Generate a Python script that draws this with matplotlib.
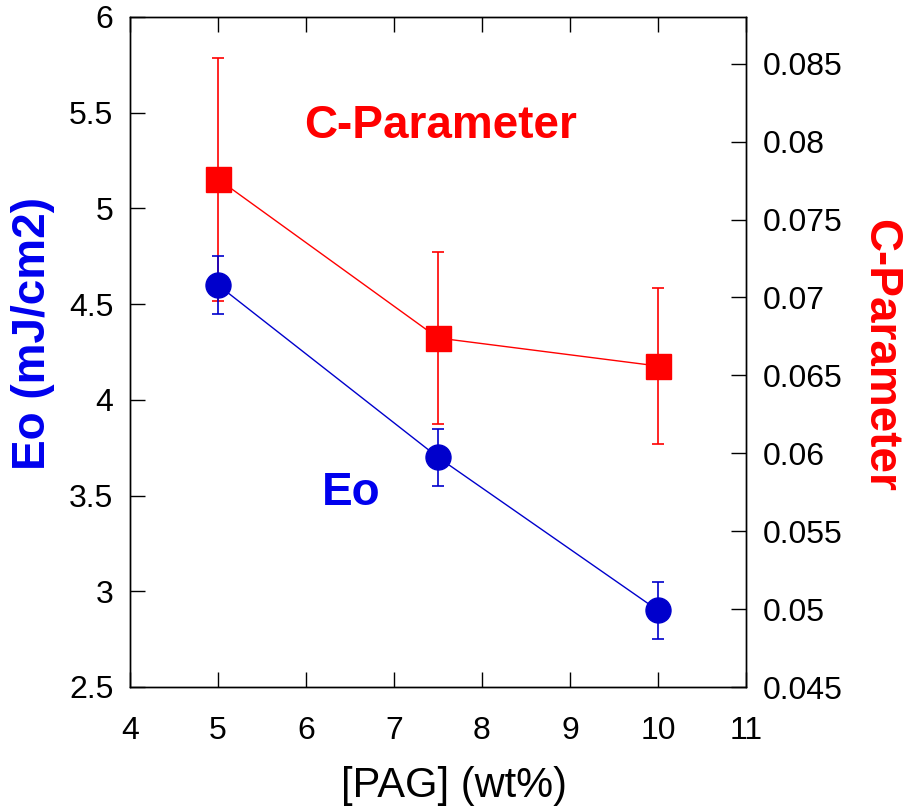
import matplotlib
matplotlib.use("Agg")
import matplotlib.pyplot as plt

plt.rcParams['font.family'] = ['Liberation Sans', 'DejaVu Sans']

pag = [5, 7.5, 10]
eo = [4.6, 3.7, 2.9]
eo_err = [0.15, 0.15, 0.15]
cparam = [0.0776, 0.0674, 0.0656]
cparam_err = [0.0078, 0.0055, 0.0050]

x_ticks = [4, 5, 6, 7, 8, 9, 10, 11]
eo_ticks = [2.5, 3, 3.5, 4, 4.5, 5, 5.5, 6]
eo_tick_labels = ['2.5', '3', '3.5', '4', '4.5', '5', '5.5', '6']
c_ticks = [0.045, 0.05, 0.055, 0.06, 0.065, 0.07, 0.075, 0.08, 0.085]
c_tick_labels = ['0.045', '0.05', '0.055', '0.06', '0.065', '0.07', '0.075', '0.08', '0.085']

BLUE_M = '#0000cc'
BLUE_T = '#0000ee'
RED = '#ff0000'

fig = plt.figure(figsize=(9.04, 8.09), dpi=100)
ax1 = fig.add_axes([130/904, 1-687/809, 616/904, 670/809])
ax2 = ax1.twinx()
ax1.set_zorder(ax2.get_zorder() + 1)
ax1.patch.set_visible(False)

ax2.errorbar(pag, cparam, yerr=cparam_err, color=RED, marker='s', markersize=18,
             lw=1, elinewidth=1.2, capsize=4.5, capthick=1.2, zorder=3)
ax1.errorbar(pag, eo, yerr=eo_err, color=BLUE_M, marker='o', markersize=18,
             lw=1, elinewidth=1.2, capsize=4.5, capthick=1.2, zorder=3)

ax1.set_xlim(4, 11)
ax1.set_ylim(2.5, 6)
ax2.set_ylim(0.045, 0.088)

ax1.set_xticks(x_ticks)
ax1.set_xticklabels([str(t) for t in x_ticks])
ax1.set_yticks(eo_ticks)
ax1.set_yticklabels(eo_tick_labels)
ax2.set_yticks(c_ticks)
ax2.set_yticklabels(c_tick_labels)

ax1.tick_params(axis='x', which='both', direction='in', top=True, bottom=True,
                length=11, width=1, labelsize=23, pad=21)
ax1.tick_params(axis='y', direction='in', left=True, right=False,
                length=11, width=1, labelsize=23, pad=12)
ax2.tick_params(axis='y', direction='in', right=True, left=False,
                length=11, width=1, labelsize=23, pad=12)
ax1.minorticks_off()
ax2.minorticks_off()
for ax in (ax1, ax2):
    for s in ax.spines.values():
        s.set_linewidth(1)
        s.set_color('black')

fig.text(33/904, 1-333/809, 'Eo (mJ/cm2)', rotation=90, ha='center', va='center',
         fontsize=33, fontweight='bold', color=BLUE_T)
fig.text(880/904, 1-355/809, 'C-Parameter', rotation=270, ha='center', va='center',
         fontsize=33, fontweight='bold', color=RED)
fig.text(454/904, 1-797/809, '[PAG] (wt%)', ha='center', va='baseline',
         fontsize=30, color='black')

ax1.text(5.98, 5.37, 'C-Parameter', ha='left', va='baseline', fontsize=33,
         fontweight='bold', color=RED)
ax1.text(6.18, 3.45, 'Eo', ha='left', va='baseline', fontsize=33,
         fontweight='bold', color=BLUE_T)

fig.savefig('out.png', dpi=100)
